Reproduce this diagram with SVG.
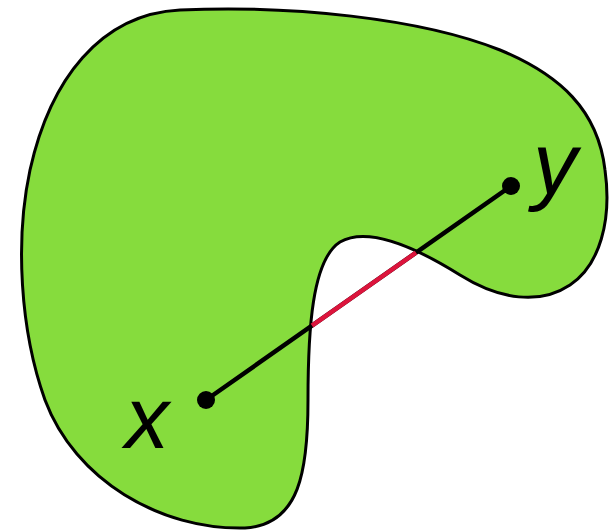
<svg xmlns="http://www.w3.org/2000/svg" width="611" height="532" viewBox="0 0 611 532">
<style>
.blob{fill:#86dc3d;stroke:#000;stroke-width:3}
.seg{stroke:#000;stroke-width:4.5;stroke-linecap:round}
.red{stroke:#dc143c;stroke-width:4.5}
.lbl{font-family:"Liberation Sans",Arial,sans-serif;font-style:italic;font-size:88px;fill:#000}
</style>
<g id="set">
<path class="blob" d="M 180,10 C 100,14 50,80 30,170 C 15,240 20,330 45,400 C 75,480 160,530 245,528 C 300,525 308,470 308,400 C 308,330 312,260 340,242 C 370,225 420,250 460,275 C 500,300 540,305 570,285 C 600,265 612,220 605,170 C 598,110 560,75 500,50 C 420,18 290,5 180,10 Z"/>
</g>
<g id="connectors">
<line class="seg" x1="206" y1="400" x2="511" y2="186"/>
<line class="red" x1="312" y1="325.6" x2="416" y2="252.7"/>
</g>
<g id="x">
<circle cx="206" cy="400" r="9"/>
<text class="lbl" x="125" y="448">x</text>
</g>
<g id="y">
<circle cx="511" cy="186" r="9"/>
<text class="lbl" x="533" y="194">y</text>
</g>
</svg>
